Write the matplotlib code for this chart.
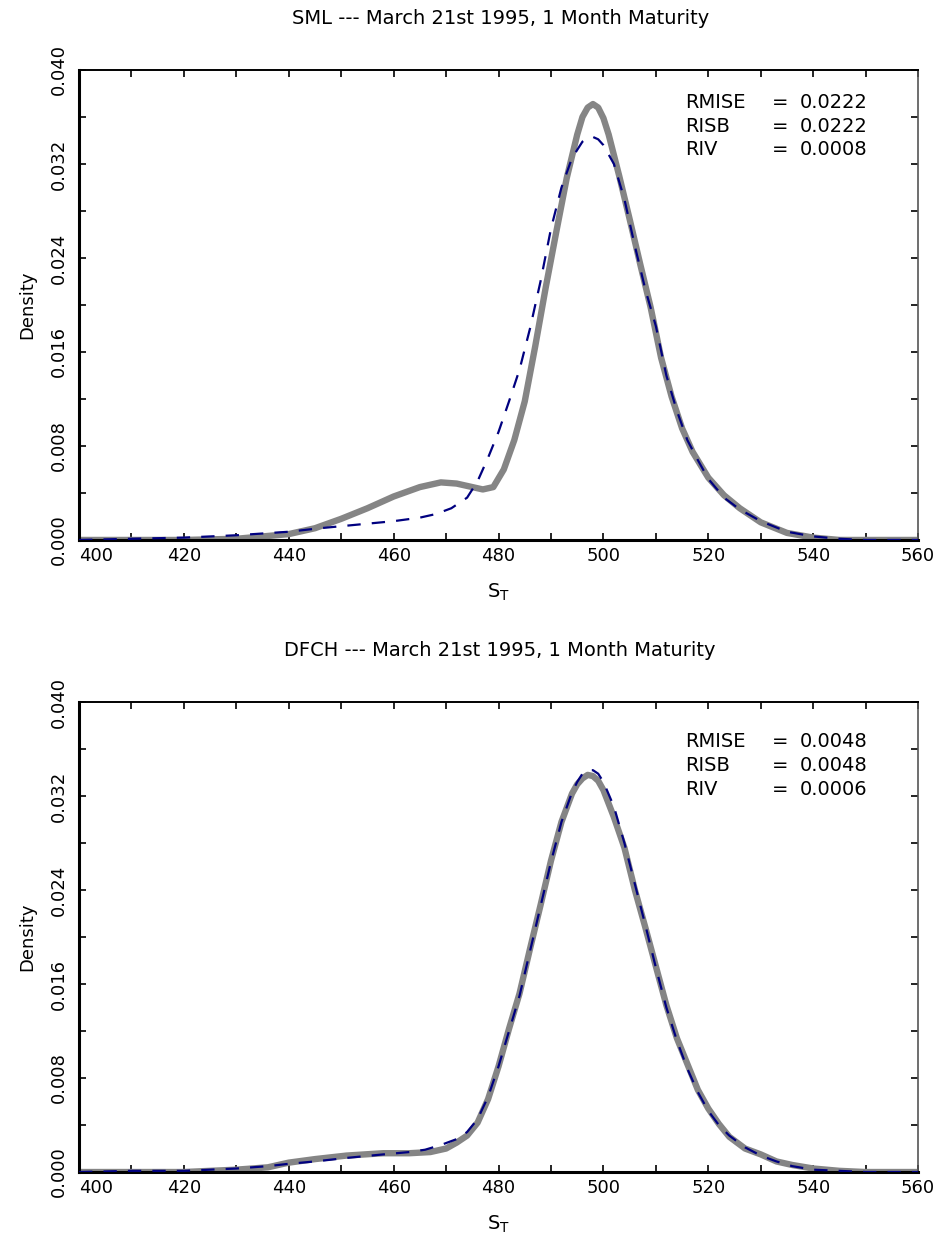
import matplotlib
matplotlib.use("Agg")
import matplotlib.pyplot as plt
from matplotlib.ticker import MultipleLocator, FormatStrFormatter

# 上图: SML 估计 (灰色粗线) 与真实密度 (蓝色虚线)
sml_x = [400, 410, 420, 430, 435, 440, 445, 450, 455, 460, 465, 469, 472, 475, 477,
         479, 481, 483, 485, 487, 489, 491, 493, 495, 496, 497, 498, 499, 500, 501,
         503, 505, 507, 509, 511, 513, 515, 517, 520, 523, 526, 530, 535, 540, 545, 560]
sml_est = [0, 0, 0, 0.0001, 0.0003, 0.0005, 0.0010, 0.0018, 0.0027, 0.0037, 0.0045,
           0.0049, 0.0048, 0.0045, 0.0043, 0.0045, 0.0060, 0.0085, 0.0118, 0.0165,
           0.0215, 0.0262, 0.0308, 0.0345, 0.0360, 0.0368, 0.0371, 0.0368, 0.0359,
           0.0345, 0.0310, 0.0273, 0.0235, 0.0198, 0.0155, 0.0122, 0.0095, 0.0075,
           0.0053, 0.0038, 0.0027, 0.0015, 0.0006, 0.0002, 0.0, 0.0]

sml_true_x = [400, 410, 420, 430, 440, 446, 453, 460, 465, 468, 471, 474, 476, 478,
              480, 482, 484, 486, 488, 490, 492, 494, 496, 497, 498, 499, 500, 502,
              504, 506, 508, 510, 512, 514, 516, 518, 520, 523, 526, 530, 535, 540,
              545, 550, 560]
sml_true = [0.0, 0.0001, 0.0002, 0.0004, 0.0007, 0.0010, 0.0013, 0.0016, 0.0019,
            0.0022, 0.0027, 0.0036, 0.0050, 0.0070, 0.0092, 0.0118, 0.0145, 0.0180,
            0.0220, 0.0265, 0.0300, 0.0325, 0.0339, 0.0342, 0.0343, 0.0341, 0.0336,
            0.0320, 0.0290, 0.0250, 0.0213, 0.0182, 0.0140, 0.0110, 0.0085, 0.0068,
            0.0052, 0.0036, 0.0026, 0.0016, 0.0007, 0.0003, 0.0001, 0.0, 0.0]

# 下图: DFCH 估计与真实密度
dfch_x = [400, 420, 425, 430, 436, 440, 445, 451, 458, 463, 467, 470, 472, 474, 476,
          478, 480, 482, 484, 486, 488, 490, 492, 494, 495, 496, 497, 498, 499, 500,
          502, 504, 506, 508, 510, 512, 514, 516, 518, 520, 522, 524, 527, 530, 533,
          536, 540, 545, 550, 560]
dfch_est = [0, 0, 0.0001, 0.0002, 0.0004, 0.0008, 0.0011, 0.0014, 0.0016, 0.0016,
            0.0017, 0.0020, 0.0025, 0.0031, 0.0042, 0.0062, 0.0090, 0.0122, 0.0152,
            0.0190, 0.0227, 0.0265, 0.0298, 0.0322, 0.0330, 0.0335, 0.0338, 0.0337,
            0.0333, 0.0325, 0.0302, 0.0276, 0.0240, 0.0208, 0.0175, 0.0142, 0.0114,
            0.0092, 0.0070, 0.0054, 0.0041, 0.0030, 0.0020, 0.0015, 0.0009, 0.0006,
            0.0003, 0.0001, 0.0, 0.0]

dfch_true_x = [400, 410, 420, 425, 430, 436, 440, 445, 451, 458, 463, 466, 469, 472,
               474, 476, 478, 480, 482, 484, 486, 488, 490, 492, 494, 495, 496, 497,
               498, 499, 500, 502, 504, 506, 508, 510, 512, 514, 516, 518, 520, 522,
               524, 527, 530, 533, 536, 540, 545, 550, 560]
dfch_true = [0.0, 0.0001, 0.0001, 0.0002, 0.0003, 0.0005, 0.0007, 0.0009, 0.0012,
             0.0015, 0.0017, 0.0019, 0.0023, 0.0028, 0.0034, 0.0045, 0.0064, 0.0090,
             0.0120, 0.0150, 0.0188, 0.0226, 0.0264, 0.0298, 0.0323, 0.0332, 0.0339,
             0.0342, 0.0342, 0.0339, 0.0332, 0.0311, 0.0280, 0.0245, 0.0210, 0.0174,
             0.0140, 0.0112, 0.0088, 0.0068, 0.0052, 0.0040, 0.0031, 0.0021, 0.0014,
             0.0009, 0.0005, 0.0002, 0.0001, 0.0, 0.0]

titles = ["SML --- March 21st 1995, 1 Month Maturity",
          "DFCH --- March 21st 1995, 1 Month Maturity"]
stat_names = ["RMISE", "RISB", "RIV"]
sml_stats = ["0.0222", "0.0222", "0.0008"]
dfch_stats = ["0.0048", "0.0048", "0.0006"]
x_ticks = [400, 420, 440, 460, 480, 500, 520, 540, 560]

plt.rcParams['font.family'] = ['DejaVu Sans']

fig = plt.figure(figsize=(9.42, 12.43), dpi=100)
ax1 = fig.add_axes([0.0839, 0.5656, 0.8907, 0.3781])
ax2 = fig.add_axes([0.0839, 0.0571, 0.8907, 0.3781])

panels = [
    (ax1, sml_x, sml_est, sml_true_x, sml_true, sml_stats, [0.930, 0.879, 0.830], 0.9855),
    (ax2, dfch_x, dfch_est, dfch_true_x, dfch_true, dfch_stats, [0.917, 0.864, 0.813], 0.4763),
]

for i, (ax, ex, ey, tx, ty, stats, ypos, title_y) in enumerate(panels):
    ax.plot(ex, ey, color='#858585', lw=4.6, solid_capstyle='round',
            solid_joinstyle='round', zorder=2)
    ax.plot(tx, ty, color='#000080', lw=1.6, dashes=(6, 5), zorder=3)

    ax.set_xlim(400, 560)
    ax.set_ylim(0, 0.04)
    ax.set_xticks(x_ticks)
    ax.xaxis.set_minor_locator(MultipleLocator(10))
    ax.yaxis.set_major_locator(MultipleLocator(0.008))
    ax.yaxis.set_minor_locator(MultipleLocator(0.004))
    ax.yaxis.set_major_formatter(FormatStrFormatter('%.3f'))

    ax.tick_params(which='both', direction='in', length=5, width=1.2,
                   top=True, right=True, labelsize=13)
    ax.tick_params(axis='x', which='major', pad=5)
    ax.tick_params(axis='y', which='major', pad=8)
    for lab in ax.get_yticklabels():
        lab.set_rotation(90)
        lab.set_va('center')
    # 400 标签靠左, 避免与 0.000 重叠
    ax.xaxis.get_major_ticks()[0].label1.set_horizontalalignment('left')

    ax.spines['left'].set_linewidth(2.2)
    ax.spines['bottom'].set_linewidth(2.2)
    ax.spines['top'].set_linewidth(1.4)
    ax.spines['right'].set_linewidth(1.2)
    ax.spines['right'].set_color('#555555')

    ax.set_xlabel(r'S$_\mathrm{T}$', fontsize=14, labelpad=12)
    ax.set_ylabel('Density', fontsize=13, labelpad=10)

    for name, val, y in zip(stat_names, stats, ypos):
        ax.text(0.722, y, name, transform=ax.transAxes, fontsize=14, va='center')
        ax.text(0.826, y, '=', transform=ax.transAxes, fontsize=14, va='center')
        ax.text(0.859, y, val, transform=ax.transAxes, fontsize=14, va='center')

    fig.text(0.531, title_y, titles[i], fontsize=14, ha='center', va='center')

fig.savefig('out.png', dpi=100)
